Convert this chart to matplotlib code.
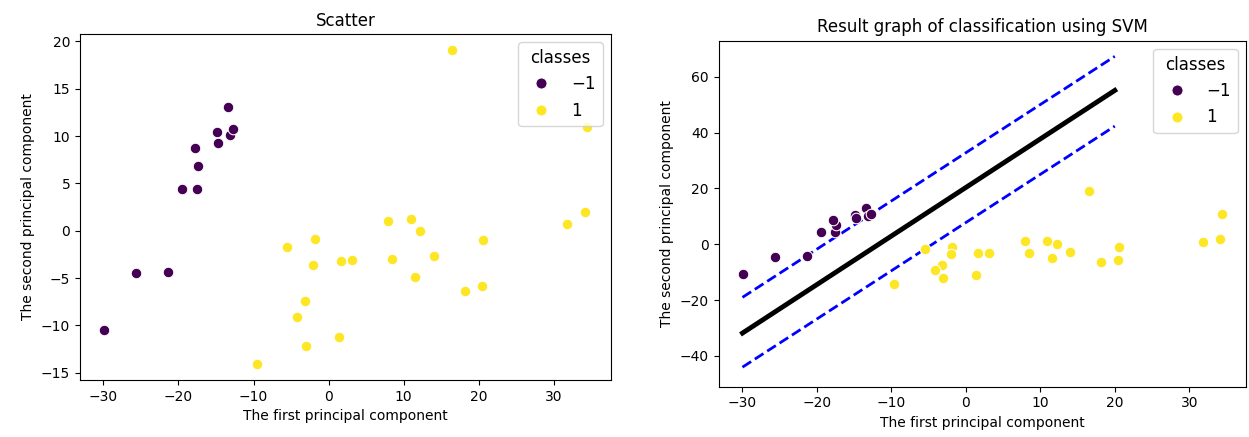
import numpy as np
import matplotlib
matplotlib.use("Agg")
import matplotlib.pyplot as plt
from matplotlib.lines import Line2D

# ---- data ----
pc1_neg = [-29.9, -25.6, -21.4, -19.5, -17.55, -17.46, -17.8, -14.9, -14.7, -13.4, -13.2, -12.7]
pc2_neg = [-10.5, -4.5, -4.35, 4.37, 4.45, 6.81, 8.79, 10.49, 9.25, 13.06, 10.1, 10.73]

pc1_pos = [16.5, 34.4, 34.1, 31.8, 20.6, 20.4, 18.2, 14.0, 12.2, 10.96, 7.94, 8.5, 11.5,
           -5.53, -1.81, -2.03, 1.65, 3.15, -3.19, -4.16, -3.06, 1.33, -9.6]
pc2_pos = [19.13, 10.97, 1.97, 0.67, -0.99, -5.8, -6.4, -2.69, 0.03, 1.3, 1.06, -2.97, -4.87,
           -1.70, -0.85, -3.57, -3.22, -3.11, -7.38, -9.11, -12.15, -11.17, -14.1]

class_labels = ["\u22121", "1"]
class_colors = ["#440154", "#fde725"]

# SVM decision boundary and margins (endpoints of straight lines)
line_x = [-30, 20]
boundary_y = [-31.8, 55.1]
margin_up_y = [-19.0, 67.3]
margin_low_y = [-44.0, 42.3]

xlabel = "The first principal component"
ylabel = "The second principal component"

fig = plt.figure(figsize=(12.49, 4.37), dpi=100)
ax1 = fig.add_axes([80 / 1249, 1 - 380 / 437, (611 - 80) / 1249, (380 - 34) / 437])
ax2 = fig.add_axes([718.5 / 1249, 1 - 386.7 / 437, (1246 - 718.5) / 1249, (386.7 - 40.7) / 437])

def draw_points(ax):
    ax.scatter(pc1_neg, pc2_neg, s=58, c=class_colors[0], edgecolors="white", linewidths=0.75, zorder=3)
    ax.scatter(pc1_pos, pc2_pos, s=58, c=class_colors[1], edgecolors="white", linewidths=0.75, zorder=3)
    handles = [Line2D([], [], marker="o", linestyle="", markersize=8, markerfacecolor=c,
                      markeredgecolor="white", markeredgewidth=0.75) for c in class_colors]
    ax.legend(handles, class_labels, title="classes", loc="upper right",
              fontsize=12, title_fontsize=12)
    ax.set_xlabel(xlabel)
    ax.set_ylabel(ylabel)

draw_points(ax1)
ax1.set_title("Scatter")

ax2.plot(line_x, boundary_y, color="k", lw=3.5)
ax2.plot(line_x, margin_up_y, color="b", ls="--", lw=2)
ax2.plot(line_x, margin_low_y, color="b", ls="--", lw=2)
draw_points(ax2)
ax2.set_ylim(-51, 72.9)
ax2.set_title("Result graph of classification using SVM")

fig.savefig("out.png", dpi=100)
